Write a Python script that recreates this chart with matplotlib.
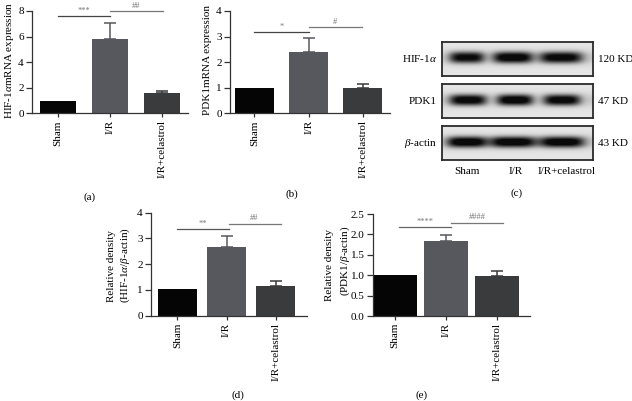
import matplotlib
matplotlib.use("Agg")
import matplotlib.pyplot as plt
import numpy as np

plt.rcParams["font.family"] = ["Liberation Serif", "DejaVu Serif"]
plt.rcParams["mathtext.fontset"] = "custom"
plt.rcParams["mathtext.rm"] = "Liberation Serif"
plt.rcParams["mathtext.it"] = "Liberation Serif:italic"

W, H = 632, 401

groups = ["Sham", "I/R", "I/R+celastrol"]
bar_colors = ["#050505", "#57585e", "#3a3b3c"]

# (a) HIF-1a mRNA
hif_mrna = [1.0, 5.8, 1.56]
hif_mrna_err = [0.0, 1.28, 0.21]
# (b) PDK1 mRNA
pdk1_mrna = [1.0, 2.41, 0.98]
pdk1_mrna_err = [0.0, 0.52, 0.15]
# (d) HIF-1a / beta-actin
hif_rel = [1.02, 2.68, 1.15]
hif_rel_err = [0.0, 0.43, 0.21]
# (e) PDK1 / beta-actin
pdk1_rel = [1.01, 1.83, 0.99]
pdk1_rel_err = [0.0, 0.15, 0.11]

# western blot (c): band darkness, width (px) and lane centre (px from box left)
blot_rows = ["HIF-1$\\alpha$", "PDK1", "$\\beta$-actin"]
blot_sizes = ["120 KD", "47 KD", "43 KD"]
band_dark = [[0.8, 0.88, 0.84], [0.84, 0.88, 0.84], [0.88, 0.88, 0.88]]
band_width = [[35, 40, 43], [37, 36, 37], [40, 47, 45]]
band_center = [[25, 71, 119], [26, 73, 120], [25, 71, 120]]


def px_axes(fig, x0, y0, x1, y1):
    return fig.add_axes([x0 / W, 1 - y1 / H, (x1 - x0) / W, (y1 - y0) / H])


def bar_panel(ax, vals, errs, ymax, yticks, xlim, width, sig, yfmt=None):
    x = np.arange(len(vals))
    ax.bar(x, vals, width=width, color=bar_colors, edgecolor="none", zorder=2)
    for xi, v, e, c in zip(x, vals, errs, bar_colors):
        if e > 0:
            ax.errorbar(xi, v, yerr=[[0], [e]], color=c, capsize=4.2,
                        elinewidth=1.1, capthick=1.1, zorder=1)
    ax.set_xlim(*xlim)
    ax.set_ylim(0, ymax)
    ax.set_yticks(yticks)
    if yfmt:
        ax.set_yticklabels([yfmt % t for t in yticks])
    ax.set_xticks(x)
    ax.set_xticklabels(groups, rotation=90, fontsize=8)
    for s in ["top", "right"]:
        ax.spines[s].set_visible(False)
    for s in ["left", "bottom"]:
        ax.spines[s].set_color("#333333")
        ax.spines[s].set_linewidth(0.9)
    ax.tick_params(axis="y", labelsize=8, length=4.5, width=0.9, colors="#333333", pad=1.5)
    ax.tick_params(axis="x", length=3, width=0.9, colors="#333333", pad=2)
    for lab in ax.get_yticklabels() + ax.get_xticklabels():
        lab.set_color("black")
    # significance brackets: (x0, x1, y, text, colour)
    for x0, x1, y, txt, col in sig:
        ax.plot([x0, x1], [y, y], color=col, lw=0.9, clip_on=False)
        ax.text((x0 + x1) / 2, y + ymax * 0.012, txt, ha="center", va="bottom",
                fontsize=6, color="#777777", clip_on=False)


fig = plt.figure(figsize=(W / 100, H / 100), dpi=100)

# (a)
ax = px_axes(fig, 32, 11, 188, 113.3)
bar_panel(ax, hif_mrna, hif_mrna_err, 8, [0, 2, 4, 6, 8], (-0.5, 2.5), 0.68,
          [(0.0, 1.0, 7.6, "***", "#444444"), (1.0, 2.02, 7.98, "##", "#777777")])
fig.text(10 / W, 1 - 60 / H, "HIF-1$\\alpha$mRNA expression", rotation=90,
         ha="center", va="center", fontsize=8)
fig.text(90 / W, 1 - 197 / H, "(a)", ha="center", va="center", fontsize=8)

# (b)
ax = px_axes(fig, 230, 11, 390, 113.3)
bar_panel(ax, pdk1_mrna, pdk1_mrna_err, 4, [0, 1, 2, 3, 4], (-0.45, 2.5), 0.72,
          [(0.0, 1.0, 3.16, "*", "#444444"), (1.0, 1.98, 3.38, "#", "#777777")])
fig.text(208 / W, 1 - 60 / H, "PDK1mRNA expression", rotation=90,
         ha="center", va="center", fontsize=8)
fig.text(292 / W, 1 - 194 / H, "(b)", ha="center", va="center", fontsize=8)

# (c) western blot
box_x0, box_x1 = 442, 593
box_tops = [42, 84, 126]
box_h = 34
for r, top in enumerate(box_tops):
    bax = px_axes(fig, box_x0, top, box_x1, top + box_h)
    nx, ny = box_x1 - box_x0, box_h
    xx, yy = np.meshgrid(np.arange(nx) + 0.5, np.arange(ny) + 0.5)
    cy = ny / 2 - 1
    img = np.full((ny, nx), 0.9)
    img -= 0.12 * np.exp(-((yy - cy) / 7.0) ** 2)
    for c in range(3):
        cx = band_center[r][c]
        hw = band_width[r][c] / 2
        prof = np.exp(-np.abs((xx - cx) / hw) ** 4) * np.exp(-np.abs((yy - cy) / 5.5) ** 2.5)
        img -= band_dark[r][c] * prof
    img = np.clip(img, 0.04, 1)
    bax.imshow(img, cmap="gray", vmin=0, vmax=1, aspect="auto",
               extent=(0, nx, ny, 0), interpolation="bilinear")
    bax.set_xticks([])
    bax.set_yticks([])
    for s in bax.spines.values():
        s.set_color("#2a2a2a")
        s.set_linewidth(1.3)
    fig.text(437 / W, 1 - (top + box_h / 2) / H, blot_rows[r], ha="right",
             va="center", fontsize=8)
    fig.text(598 / W, 1 - (top + box_h / 2) / H, blot_sizes[r], ha="left",
             va="center", fontsize=8)
for lab, lx in zip(groups, [467, 516, 567]):
    fig.text(lx / W, 1 - 171 / H, lab, ha="center", va="center", fontsize=8)
fig.text(517 / W, 1 - 193 / H, "(c)", ha="center", va="center", fontsize=8)

# (d)
ax = px_axes(fig, 151, 212.7, 307, 315.7)
bar_panel(ax, hif_rel, hif_rel_err, 4, [0, 1, 2, 3, 4], (-0.54, 2.64), 0.78,
          [(0.0, 1.04, 3.36, "**", "#555555"), (1.04, 2.1, 3.58, "##", "#777777")])
fig.text(111 / W, 1 - 266 / H, "Relative density", rotation=90,
         ha="center", va="center", fontsize=8)
fig.text(125 / W, 1 - 265 / H, "(HIF-1$\\alpha$/$\\beta$-actin)", rotation=90,
         ha="center", va="center", fontsize=8)
fig.text(238 / W, 1 - 395 / H, "(d)", ha="center", va="center", fontsize=8)

# (e)
ax = px_axes(fig, 373, 214, 530, 316)
bar_panel(ax, pdk1_rel, pdk1_rel_err, 2.5, [0.0, 0.5, 1.0, 1.5, 2.0, 2.5],
          (-0.43, 2.65), 0.85,
          [(0.08, 1.1, 2.17, "****", "#666666"), (1.1, 2.12, 2.29, "####", "#777777")],
          yfmt="%.1f")
fig.text(330 / W, 1 - 265 / H, "Relative density", rotation=90,
         ha="center", va="center", fontsize=8)
fig.text(345 / W, 1 - 261 / H, "(PDK1/$\\beta$-actin)", rotation=90,
         ha="center", va="center", fontsize=8)
fig.text(422 / W, 1 - 395 / H, "(e)", ha="center", va="center", fontsize=8)

fig.savefig("out.png", dpi=100)
